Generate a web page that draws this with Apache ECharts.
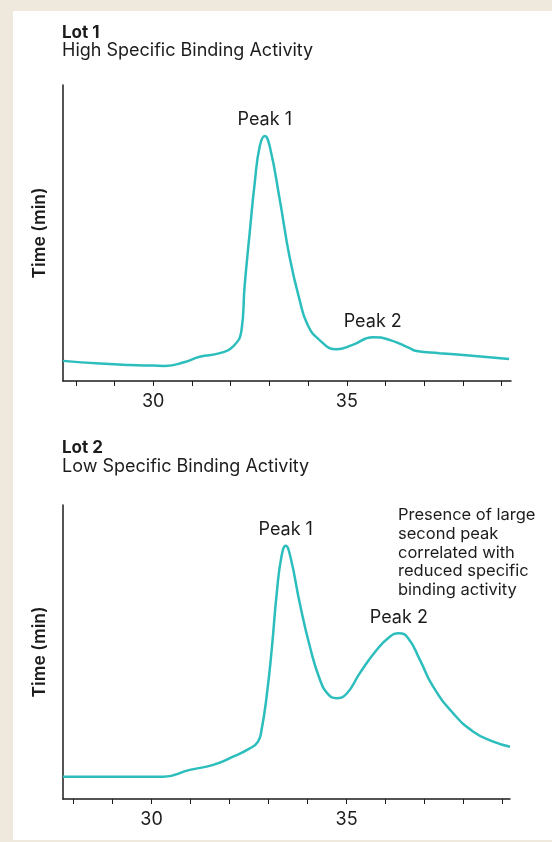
<!DOCTYPE html>
<html>
<head>
<meta charset="utf-8">
<script src="https://cdn.jsdelivr.net/npm/echarts@6/dist/echarts.min.js"></script>
<style>
  html, body { margin: 0; padding: 0; background: #efe8dc; }
  #main { width: 552px; height: 842px; }
</style>
</head>
<body>
<div id="main"></div>
<script>
// elution time (min) vs signal
var lot1Time = [27.67, 28.63, 29.40, 30.00, 30.30, 30.82, 31.20, 31.72, 32.06, 32.28, 32.36, 32.49, 32.62, 32.75, 32.88, 33.01, 33.27, 33.52, 33.78, 33.99, 34.29, 34.73, 35.15, 35.67, 36.10, 36.62, 36.80, 37.39, 38.16, 39.19];
var lot1Signal = [6.8, 5.9, 5.4, 5.2, 5.1, 6.4, 8.2, 9.4, 11.6, 17.2, 31.9, 49.9, 66.8, 79.2, 82.8, 79.2, 61.1, 42.0, 27.4, 18.9, 13.9, 10.7, 12.2, 14.8, 13.9, 11.1, 10.1, 9.4, 8.6, 7.4];

var lot2Time = [27.73, 28.67, 30.30, 30.98, 31.58, 32.09, 32.52, 32.73, 32.82, 32.95, 33.08, 33.21, 33.33, 33.44, 33.56, 33.80, 34.06, 34.32, 34.53, 34.74, 35.00, 35.34, 35.77, 36.11, 36.34, 36.58, 36.88, 37.22, 37.73, 38.25, 38.76, 39.19];
var lot2Signal = [7.6, 7.6, 7.6, 9.9, 11.6, 14.4, 17.2, 19.5, 23.5, 34.8, 50.7, 70.0, 82.4, 86.1, 82.4, 66.6, 51.8, 40.5, 35.6, 34.3, 35.8, 42.8, 50.7, 55.2, 56.4, 54.7, 47.3, 38.2, 29.2, 22.9, 19.5, 17.8];

var tickValues = [28, 29, 30, 31, 32, 33, 34, 35, 36, 37, 38, 39];
var labelValues = [30, 35];

var lot1Peaks = [{ name: 'Peak 1', coord: [32.88, 82.8] }, { name: 'Peak 2', coord: [35.67, 14.8] }];
var lot2Peaks = [{ name: 'Peak 1', coord: [33.44, 86.1] }, { name: 'Peak 2', coord: [36.34, 56.4] }];

var font = 'Inter, "Open Sans", sans-serif';
var ink = '#1c1c1c';
var teal = '#2cbdbd';

function pairs(xs, ys) {
  return xs.map(function (x, i) { return [x, ys[i]]; });
}

function xAxisFor(idx, min, max) {
  return {
    type: 'value', gridIndex: idx, min: min, max: max,
    splitLine: { show: false },
    axisLine: { lineStyle: { color: ink, width: 1.5 } },
    axisTick: { show: true, length: 5, lineStyle: { color: ink, width: 1 }, customValues: tickValues },
    axisLabel: { color: ink, fontSize: 18, fontFamily: font, margin: 12, customValues: labelValues }
  };
}

function yAxisFor(idx) {
  return {
    type: 'value', gridIndex: idx, min: 0, max: 100,
    splitLine: { show: false },
    axisLine: { show: true, lineStyle: { color: ink, width: 1.5 } },
    axisTick: { show: false },
    axisLabel: { show: false },
    name: 'Time (min)', nameLocation: 'middle', nameRotate: 90, nameGap: 14,
    nameTextStyle: { color: ink, fontSize: 17.5, fontWeight: 600, fontFamily: font }
  };
}

function peakMarks(list) {
  return {
    symbol: 'circle', symbolSize: 0,
    label: { show: true, position: 'top', distance: 7, formatter: '{b}', color: ink, fontSize: 18, fontFamily: font },
    data: list
  };
}

function trace(idx, data, peaks) {
  return {
    type: 'line', xAxisIndex: idx, yAxisIndex: idx,
    data: data, showSymbol: false, smooth: 0.5,
    lineStyle: { color: teal, width: 2.5 },
    silent: true,
    markPoint: peakMarks(peaks)
  };
}

var chartDom = document.getElementById('main');
var myChart = echarts.init(chartDom);
var option;

option = {
  backgroundColor: '#efe8dc',
  animation: false,
  graphic: [
    { type: 'rect', left: 13, top: 11, shape: { width: 545, height: 829 }, style: { fill: '#ffffff' }, z: -10 }
  ],
  title: [
    {
      text: 'Lot 1', subtext: 'High Specific Binding Activity', left: 57, top: 19, itemGap: 1,
      textStyle: { color: ink, fontSize: 17, fontWeight: 'bold', fontFamily: font },
      subtextStyle: { color: ink, fontSize: 18, fontFamily: font }
    },
    {
      text: 'Lot 2', subtext: 'Low Specific Binding Activity', left: 57, top: 434, itemGap: 2,
      textStyle: { color: ink, fontSize: 17, fontWeight: 'bold', fontFamily: font },
      subtextStyle: { color: ink, fontSize: 18, fontFamily: font }
    },
    {
      text: 'Presence of large\nsecond peak\ncorrelated with\nreduced specific\nbinding activity',
      left: 393, top: 501,
      textStyle: { color: ink, fontSize: 16.5, fontWeight: 'normal', fontFamily: font, lineHeight: 18.7 }
    }
  ],
  grid: [
    { left: 63, top: 85, width: 448, height: 296 },
    { left: 63, top: 505, width: 447, height: 294 }
  ],
  xAxis: [xAxisFor(0, 27.67, 39.24), xAxisFor(1, 27.73, 39.19)],
  yAxis: [yAxisFor(0), yAxisFor(1)],
  series: [
    trace(0, pairs(lot1Time, lot1Signal), lot1Peaks),
    trace(1, pairs(lot2Time, lot2Signal), lot2Peaks)
  ]
};

option && myChart.setOption(option);
</script>
</body>
</html>
